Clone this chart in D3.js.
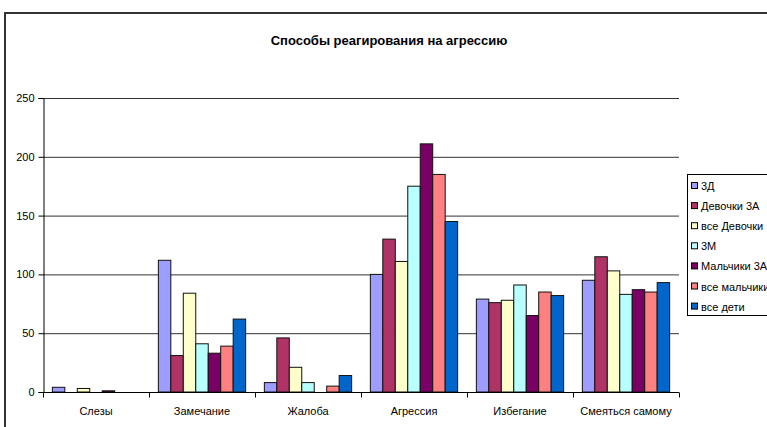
<!DOCTYPE html>
<html>
<head>
<meta charset="utf-8">
<script src="https://cdn.jsdelivr.net/npm/d3@7"></script>
<style>
  body { margin: 0; background: #fff; }
  svg { font-family: "Liberation Sans", Arial, sans-serif; }
</style>
</head>
<body>
<svg id="chart" width="767" height="427"></svg>
<script>
(function () {
    const width = 767, height = 427

    // categories along the x axis
    const categories = ["Слезы", "Замечание", "Жалоба", "Агрессия", "Избегание", "Смеяться самому"]
    // series names (legend order)
    const seriesNames = ["3Д", "Девочки 3А", "все Девочки", "3М", "Мальчики 3А", "все мальчики", "все дети"]
    const seriesColors = ["#9d9dff", "#b03366", "#ffffcc", "#b8ffff", "#7a0066", "#ff8080", "#0066cc"]

    // values per series, one per category
    const s3D       = [4, 112, 8, 100, 79, 95]
    const girls3A   = [0, 31, 46, 130, 76, 115]
    const allGirls  = [3, 84, 21, 111, 78, 103]
    const s3M       = [0, 41, 8, 175, 91, 83]
    const boys3A    = [1, 33, 0, 211, 65, 87]
    const allBoys   = [0, 39, 5, 185, 85, 85]
    const allKids   = [0, 62, 14, 145, 82, 93]
    const seriesValues = [s3D, girls3A, allGirls, s3M, boys3A, allBoys, allKids]

    const yTicks = [0, 50, 100, 150, 200, 250]

    const svg = d3.select("#chart")

    // outer chart frame
    svg.append("rect")
        .attr("x", 5).attr("y", 13)
        .attr("width", 820).attr("height", 460)
        .attr("fill", "none")
        .attr("stroke", "#333")
        .attr("stroke-width", 2)

    svg.append("text")
        .attr("x", 389).attr("y", 45)
        .attr("text-anchor", "middle")
        .style("font-size", "13px")
        .style("font-weight", "bold")
        .text("Способы реагирования на агрессию")

    const plot = { left: 43, right: 679, top: 98, bottom: 392 }

    const x = d3.scaleBand()
        .domain(categories)
        .range([plot.left, plot.right])

    // 7 bars + 150% gap per category
    const xInner = d3.scaleBand()
        .domain(seriesNames)
        .range([0, x.bandwidth()])
        .paddingOuter(0.75)
        .paddingInner(0)

    const y = d3.scaleLinear()
        .domain([0, 250])
        .range([plot.bottom, plot.top])

    // gridlines
    svg.append("g")
        .selectAll("line")
        .data(yTicks.slice(1))
        .enter()
        .append("line")
        .attr("x1", plot.left).attr("x2", plot.right)
        .attr("y1", d => y(d) + 0.5).attr("y2", d => y(d) + 0.5)
        .attr("stroke", "#333")
        .attr("stroke-width", 1)

    // bars
    const groups = svg.append("g")
        .selectAll("g")
        .data(seriesNames)
        .enter()
        .append("g")
        .attr("fill", (d, i) => seriesColors[i])

    groups.selectAll("rect")
        .data((d, i) => seriesValues[i].map((v, j) => ({ cat: categories[j], name: d, v: v })))
        .enter()
        .filter(d => d.v > 0)
        .append("rect")
        .attr("x", d => x(d.cat) + xInner(d.name))
        .attr("y", d => y(d.v))
        .attr("width", xInner.bandwidth())
        .attr("height", d => y(0) - y(d.v))
        .attr("stroke", "#111")
        .attr("stroke-width", 1)

    // y axis
    const yAxis = svg.append("g")
        .attr("transform", `translate(${plot.left + 0.5},0)`)
        .call(d3.axisLeft(y).tickValues(yTicks).tickSize(5).tickPadding(4))
    yAxis.selectAll("text").style("font-size", "11px").attr("fill", "#000")
    yAxis.selectAll("line, path").attr("stroke", "#000")

    // x axis with ticks on category boundaries
    const xAxisG = svg.append("g")
        .attr("transform", `translate(0,${plot.bottom + 0.5})`)
    xAxisG.append("line")
        .attr("x1", plot.left).attr("x2", plot.right)
        .attr("stroke", "#000")
    const bounds = categories.map(c => x(c)).concat([plot.right])
    xAxisG.selectAll("line.tick")
        .data(bounds)
        .enter()
        .append("line")
        .attr("class", "tick")
        .attr("x1", d => Math.round(d) + 0.5).attr("x2", d => Math.round(d) + 0.5)
        .attr("y1", 0).attr("y2", 5)
        .attr("stroke", "#000")
    xAxisG.selectAll("text")
        .data(categories)
        .enter()
        .append("text")
        .attr("x", d => x(d) + x.bandwidth() / 2)
        .attr("y", 22)
        .attr("text-anchor", "middle")
        .style("font-size", "11px")
        .text(d => d)

    // legend
    const legend = svg.append("g")
    legend.append("rect")
        .attr("x", 687.5).attr("y", 174.5)
        .attr("width", 120).attr("height", 141)
        .attr("fill", "#fff")
        .attr("stroke", "#000")
    const items = legend.selectAll("g.item")
        .data(seriesNames)
        .enter()
        .append("g")
        .attr("transform", (d, i) => `translate(691,${186 + i * 20.1})`)
    items.append("rect")
        .attr("x", 0.5).attr("y", -3.5)
        .attr("width", 6).attr("height", 6)
        .attr("fill", (d, i) => seriesColors[i])
        .attr("stroke", "#000")
    items.append("text")
        .attr("x", 10).attr("y", 4)
        .style("font-size", "11px")
        .text(d => d)
})();
</script>
</body>
</html>
